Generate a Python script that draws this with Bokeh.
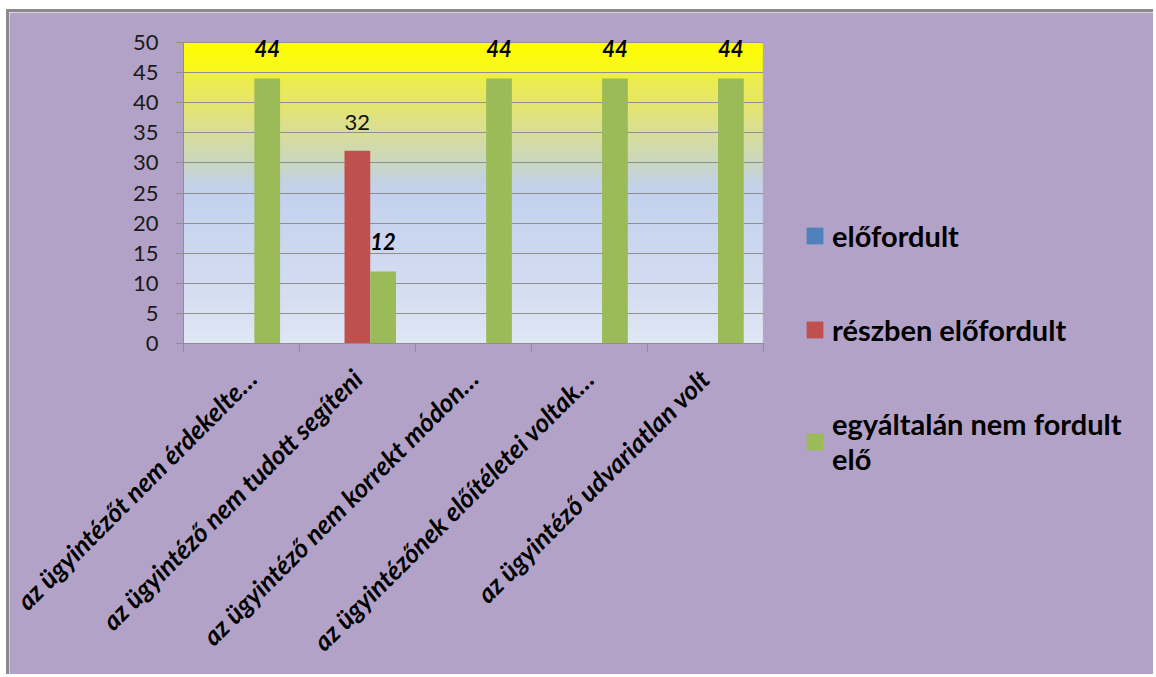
import numpy as np
from math import pi
from bokeh.plotting import figure
from bokeh.models import (ColumnDataSource, Range1d, FixedTicker, LabelSet,
                          Legend, LegendItem, BoxAnnotation)
from bokeh.core.properties import value
from bokeh.transform import dodge
from bokeh.embed import file_html
from bokeh.resources import INLINE

# ---- data ----
categories = [
    "az ügyintézőt nem érdekelte…",
    "az ügyintéző nem tudott segíteni",
    "az ügyintéző nem korrekt módon…",
    "az ügyintézőnek előítéletei voltak…",
    "az ügyintéző udvariatlan volt",
]
series_names = ["előfordult", "részben előfordult", "egyáltalán nem fordult\nelő"]
elofordult = [0, 0, 0, 0, 0]
reszben = [0, 32, 0, 0, 0]
egyaltalan = [44, 12, 44, 44, 44]
y_ticks = [0, 5, 10, 15, 20, 25, 30, 35, 40, 45, 50]

colors = ["#4F81BD", "#C0504D", "#9BBB59"]
PURPLE = "#B3A2C7"
GRID = "#8f8f8f"
FONT = "Lato"
BW = 0.222

ncat = len(categories)
xi = list(range(ncat))
src = ColumnDataSource(dict(xi=xi, a=elofordult, b=reszben, c=egyaltalan))

# layout: the frame covers the whole canvas so that axes labels and legend,
# drawn around the plot area, are never clipped
W, H = 1147, 665
PA_LEFT, PA_TOP, PA_BOTTOM = 174, 29.7, 331.3   # plot area inside the canvas (px)
CAT_PX = 115.92                                  # pixels per category
UNIT_PX = (PA_BOTTOM - PA_TOP) / 50.0            # pixels per value unit
x_start = -0.5 - PA_LEFT / CAT_PX
x_end = -0.5 + (W - PA_LEFT) / CAT_PX
y_end = 50 + PA_TOP / UNIT_PX
y_start = -(H - PA_BOTTOM) / UNIT_PX

p = figure(width=W, height=H,
           x_range=Range1d(x_start, x_end), y_range=Range1d(y_start, y_end),
           output_backend="svg", toolbar_location=None,
           min_border_left=0, min_border_top=0,
           min_border_right=0, min_border_bottom=0)
p.styles = {"border-top": "3px solid #8a8a8a", "border-left": "3px solid #8a8a8a",
            "margin-top": "9px", "margin-left": "6px"}
p.border_fill_color = PURPLE
p.background_fill_color = PURPLE
p.outline_line_color = None

# gradient background of the plot area (decoration)
stops = [(0, (0xE0, 0xE7, 0xF5)), (10, (0xD3, 0xDC, 0xF1)), (20, (0xC8, 0xD5, 0xEE)),
         (25, (0xC3, 0xD2, 0xEE)), (27, (0xC4, 0xD2, 0xE2)), (30, (0xCB, 0xD7, 0xC0)),
         (35, (0xD9, 0xDE, 0x98)), (40, (0xE6, 0xE6, 0x6A)), (44.9, (0xEF, 0xEF, 0x45)),
         (45.1, (0xF8, 0xF8, 0x22)), (50, (0xFF, 0xFF, 0x00))]
n = 500
yy = np.linspace(0, 50, n)
sv = [s[0] for s in stops]
img = np.zeros((n, 1), dtype=np.uint32)
view = img.view(dtype=np.uint8).reshape((n, 1, 4))
for ch in range(3):
    view[:, 0, ch] = np.interp(yy, sv, [s[1][ch] for s in stops]).astype(np.uint8)
view[:, 0, 3] = 255
p.image_rgba(image=[img], x=-0.5, y=0, dw=ncat, dh=50, level="image")

p.add_layout(BoxAnnotation(left=-0.5, right=ncat - 0.5, bottom=0, top=50,
                           fill_alpha=0, line_color="#a8a8a8", line_width=1,
                           level="underlay"))

# bars
r1 = p.vbar(x=dodge("xi", -BW), top="a", width=BW, source=src,
            fill_color=colors[0], line_color=None)
r2 = p.vbar(x=dodge("xi", 0), top="b", width=BW, source=src,
            fill_color=colors[1], line_color=None)
r3 = p.vbar(x=dodge("xi", BW), top="c", width=BW, source=src,
            fill_color=colors[2], line_color=None)

# data labels
gsrc = ColumnDataSource(dict(
    xi=[x for x, v in zip(xi, egyaltalan) if v],
    v=[v for v in egyaltalan if v],
    t=[str(v) for v in egyaltalan if v]))
rsrc = ColumnDataSource(dict(
    xi=[x for x, v in zip(xi, reszben) if v],
    v=[v for v in reszben if v],
    t=[str(v) for v in reszben if v]))
p.add_layout(LabelSet(x=dodge("xi", BW), y="v", text="t", source=gsrc,
                      text_align="center", text_baseline="bottom", y_offset=21,
                      text_font=value(FONT), text_font_style="bold italic",
                      text_font_size="22px", text_color="#000000"))
p.add_layout(LabelSet(x=dodge("xi", 0), y="v", text="t", source=rsrc,
                      text_align="center", text_baseline="bottom", y_offset=21,
                      text_font=value(FONT), text_font_size="22px",
                      text_color="#111111"))

# grid
p.xgrid.visible = False
p.ygrid.ticker = FixedTicker(ticks=y_ticks)
p.ygrid.bounds = (0, 50)
p.ygrid.cross_bounds = (-0.5, ncat - 0.5)
p.ygrid.grid_line_color = GRID
p.ygrid.grid_line_width = 1.2

# x axis at value 0
xa = p.xaxis[0]
xa.fixed_location = 0
xa.bounds = (-0.5, ncat - 0.5)
xa.ticker = FixedTicker(ticks=xi, minor_ticks=[x - 0.5 for x in xi] + [xi[-1] + 0.5])
xa.major_label_overrides = {x: c for x, c in zip(xi, categories)}
xa.major_label_orientation = pi / 4
xa.major_tick_line_color = None
xa.major_tick_in = 0
xa.major_tick_out = 0
xa.minor_tick_line_color = GRID
xa.minor_tick_in = 0
xa.minor_tick_out = 8
xa.axis_line_color = GRID
xa.major_label_standoff = 22
xa.major_label_text_font = FONT
xa.major_label_text_font_style = "bold italic"
xa.major_label_text_font_size = "26px"
xa.major_label_text_color = "#000000"

# y axis at the left edge of the plot area
ya = p.yaxis[0]
ya.fixed_location = -0.5
ya.bounds = (0, 50)
ya.ticker = FixedTicker(ticks=y_ticks)
ya.major_tick_in = 0
ya.major_tick_out = 8
ya.major_tick_line_color = GRID
ya.minor_tick_line_color = None
ya.axis_line_color = GRID
ya.major_label_standoff = 17
ya.major_label_text_font = FONT
ya.major_label_text_font_size = "22px"
ya.major_label_text_color = "#1a1a1a"

legend = Legend(items=[LegendItem(label=series_names[0], renderers=[r1]),
                       LegendItem(label=series_names[1], renderers=[r2]),
                       LegendItem(label=series_names[2], renderers=[r3])],
                location=(795, 201), padding=0, margin=0,
                glyph_width=21, glyph_height=21, label_standoff=7, spacing=59,
                label_text_font=FONT, label_text_font_style="bold",
                label_text_font_size="29px", label_text_color="#000000",
                background_fill_alpha=0, border_line_color=None)
p.add_layout(legend, "center")

open("out.html", "w").write(file_html(p, INLINE))
